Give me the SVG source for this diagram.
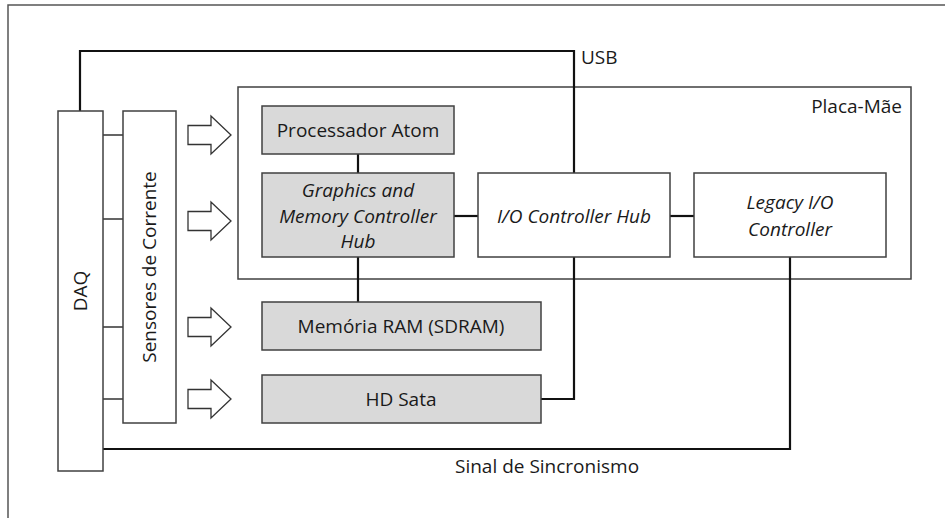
<svg xmlns="http://www.w3.org/2000/svg" width="945" height="518" viewBox="0 0 945 518">
<style>
text{font-family:"Open Sans","Liberation Sans",sans-serif;font-size:19px;fill:#1a1a1a}
.c{text-anchor:middle}
.i{font-style:italic}
.box{fill:#fff;stroke:#404040;stroke-width:1.5}
.gray{fill:#d9d9d9;stroke:#404040;stroke-width:1.5}
.wire{fill:none;stroke:#111;stroke-width:2.2}
.tie{fill:none;stroke:#333;stroke-width:1.5}
.arr{fill:#fff;stroke:#333;stroke-width:1.3}
</style>
<defs>
<path id="blk" class="arr" d="M188,-9.5 H211 V-19 L231,0 L211,19 V9.5 H188 Z"/>
</defs>
<rect width="945" height="518" fill="#fff"/>
<path d="M8,518 V5 H945" fill="none" stroke="#555" stroke-width="1.5"/>

<g id="placa-mae">
<rect class="box" x="238" y="87" width="673" height="192"/>
<text x="902" y="113" text-anchor="end">Placa-Mãe</text>
</g>

<g id="connectors">
<path class="wire" d="M80,111 V51 H574 V173"/>
<path class="wire" d="M358,154 V173"/>
<path class="wire" d="M358,257 V302"/>
<path class="wire" d="M454,216 H478"/>
<path class="wire" d="M670,216 H694"/>
<path class="wire" d="M574,257 V399 H541"/>
<path class="wire" d="M790,257 V449 H103"/>
<path class="tie" d="M103,135 H123 M103,219 H123 M103,327 H123 M103,399 H123"/>
<use href="#blk" y="135"/>
<use href="#blk" y="221"/>
<use href="#blk" y="327"/>
<use href="#blk" y="399"/>
<text x="581" y="64">USB</text>
<text x="455" y="473">Sinal de Sincronismo</text>
</g>

<g id="daq">
<rect class="box" x="58" y="111" width="45" height="360"/>
<text class="c" transform="translate(80,291) rotate(-90)" y="6.5">DAQ</text>
</g>

<g id="sensores">
<rect class="box" x="123" y="111" width="53" height="312"/>
<text class="c" transform="translate(149,267) rotate(-90)" y="6.5">Sensores de Corrente</text>
</g>

<g id="processador">
<rect class="gray" x="262" y="106" width="192" height="48"/>
<text class="c" x="358" y="137">Processador Atom</text>
</g>

<g id="gmch">
<rect class="gray" x="262" y="173" width="192" height="84"/>
<text class="c i" x="358" y="197">Graphics and</text>
<text class="c i" x="358" y="223">Memory Controller</text>
<text class="c i" x="358" y="248">Hub</text>
</g>

<g id="ioch">
<rect class="box" x="478" y="173" width="192" height="84"/>
<text class="c i" x="574" y="223">I/O Controller Hub</text>
</g>

<g id="legacy">
<rect class="box" x="694" y="173" width="192" height="84"/>
<text class="c i" x="790" y="209">Legacy I/O</text>
<text class="c i" x="790" y="236">Controller</text>
</g>

<g id="ram">
<rect class="gray" x="262" y="302" width="279" height="48"/>
<text class="c" x="401" y="333">Memória RAM (SDRAM)</text>
</g>

<g id="hd">
<rect class="gray" x="262" y="375" width="279" height="48"/>
<text class="c" x="401" y="406">HD Sata</text>
</g>
</svg>
